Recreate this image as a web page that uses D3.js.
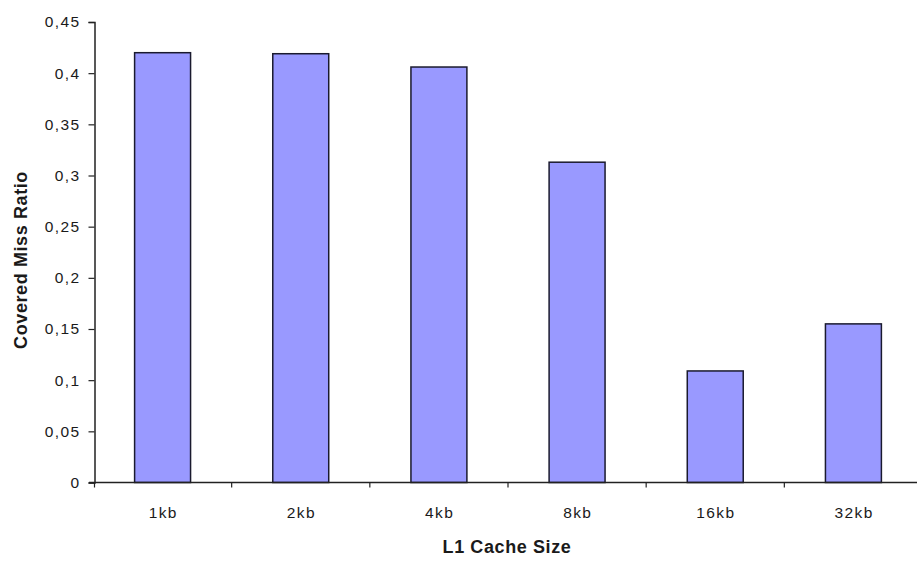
<!DOCTYPE html>
<html>
<head>
<meta charset="utf-8">
<script src="https://cdn.jsdelivr.net/npm/d3@7"></script>
<style>
  html, body { margin: 0; padding: 0; background: #fff; }
  svg { display: block; }
  .tick text { font-family: "Liberation Sans", Arial, sans-serif; font-size: 15.5px; letter-spacing: 1.4px; fill: #1a1a1a; }
</style>
</head>
<body>
<svg id="chart" width="917" height="563"></svg>
<script>
// Cache sizes and the covered miss ratio for each
const categories = ["1kb", "2kb", "4kb", "8kb", "16kb", "32kb"];
const missRatio = [0.420, 0.419, 0.406, 0.313, 0.109, 0.155];
const yTicks = [0, 0.05, 0.1, 0.15, 0.2, 0.25, 0.3, 0.35, 0.4, 0.45];
const xTitle = "L1 Cache Size";
const yTitle = "Covered Miss Ratio";

const svg = d3.select("#chart");
const plotLeft = 94.5, plotTop = 22, plotBottom = 482.5, plotRight = 922.5;

const x = d3.scaleBand().domain(categories).range([93.5, plotRight])
  .paddingInner(0.595).paddingOuter(0.2975);
const y = d3.scaleLinear().domain([0, 0.45]).range([plotBottom, plotTop]);

const fmt = d => d === 0 ? "0" : d3.format(".2~f")(d).replace(".", ",");

// y axis
const yAxis = svg.append("g").attr("transform", `translate(${plotLeft},0)`)
  .call(d3.axisLeft(y).tickValues(yTicks).tickFormat(fmt).tickSize(6).tickPadding(8));
yAxis.select(".domain").attr("stroke", "#222").attr("stroke-width", 1.5);
yAxis.selectAll(".tick line").attr("stroke", "#222").attr("stroke-width", 1.2);

// bars
svg.append("g").selectAll("rect").data(categories).join("rect")
  .attr("x", d => x(d))
  .attr("width", x.bandwidth())
  .attr("y", (d, i) => y(missRatio[i]))
  .attr("height", (d, i) => y(0) - y(missRatio[i]))
  .attr("fill", "#9999ff")
  .attr("stroke", "#1a1a2e")
  .attr("stroke-width", 1.5);

// x axis: ticks sit on the band boundaries, labels at the band centres
const boundaries = d3.range(categories.length + 1).map(i => 93.5 + i * x.step());
const xg = svg.append("g").attr("transform", `translate(0,${plotBottom})`);
xg.append("line").attr("x1", 89).attr("x2", 917).attr("y1", 0).attr("y2", 0)
  .attr("stroke", "#222").attr("stroke-width", 1.5);
xg.selectAll("line.tk").data(boundaries).join("line").attr("class", "tk")
  .attr("x1", d => Math.max(d, plotLeft)).attr("x2", d => Math.max(d, plotLeft))
  .attr("y1", 0).attr("y2", 5).attr("stroke", "#222").attr("stroke-width", 1.2);
xg.selectAll("text").data(categories).join("text")
  .attr("x", d => x(d) + x.bandwidth() / 2 + 0.7)
  .attr("y", 35.5)
  .attr("text-anchor", "middle")
  .style("font-family", '"Liberation Sans", Arial, sans-serif')
  .style("font-size", "15.5px")
  .style("letter-spacing", "1.4px")
  .attr("fill", "#1a1a1a")
  .text(d => d);

// axis titles
svg.append("text")
  .attr("x", 507).attr("y", 553)
  .attr("text-anchor", "middle")
  .style("font-family", '"Liberation Sans", Arial, sans-serif')
  .style("font-size", "18px").style("font-weight", "bold")
  .style("letter-spacing", "0.6px")
  .attr("fill", "#1a1a1a")
  .text(xTitle);

svg.append("text")
  .attr("transform", "translate(27,260) rotate(-90)")
  .attr("text-anchor", "middle")
  .style("font-family", '"Liberation Sans", Arial, sans-serif')
  .style("font-size", "18px").style("font-weight", "bold")
  .style("letter-spacing", "0.6px")
  .attr("fill", "#1a1a1a")
  .text(yTitle);
</script>
</body>
</html>
